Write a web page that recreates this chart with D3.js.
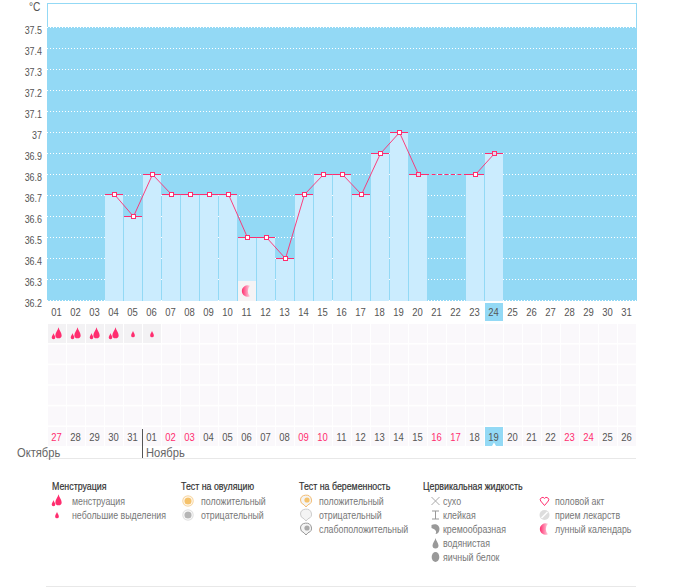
<!DOCTYPE html>
<html lang="ru">
<head>
  <meta charset="utf-8">
  <title>График БТТ</title>
  <script src="https://d3js.org/d3.v7.min.js"></script>
  <style>
    body { margin: 0; background: #fff; }
    svg { display: block; font-family: "Liberation Sans", sans-serif; }
    .tick-label { font-size: 10.5px; fill: #555; }
    .head { font-size: 10.5px; fill: #333; stroke: #333; stroke-width: .2px; }
    .item { font-size: 10.5px; fill: #777; }
  </style>
</head>
<body>
<svg id="chart" width="675" height="587"></svg>
<script>
var days = d3.range(1, 32).map(d => d3.format("02")(d));
var cycleDates = ["27","28","29","30","31","01","02","03","04","05","06","07","08","09","10","11","12","13","14","15","16","17","18","19","20","21","22","23","24","25","26"];
var redDates = [0, 6, 7, 13, 14, 20, 21, 27, 28];
var temps = [null,null,null,36.7,36.6,36.8,36.7,36.7,36.7,36.7,36.5,36.5,36.4,36.7,36.8,36.8,36.7,36.9,37,36.8,null,null,36.8,36.9];
var yTicks = [36.2,36.3,36.4,36.5,36.6,36.7,36.8,36.9,37,37.1,37.2,37.3,37.4,37.5];
var flow = [2,2,2,2,1,1];
var moonDays = [10];
var todayIndex = 23;
var tintedMarkers = [19, 23];

var sky = "#93d9f5", bar = "#cbecfe", pink = "#ff2d6f";

var svg = d3.select("#chart");
var x = d3.scaleBand().domain(d3.range(31)).range([47, 636]);
var y = d3.scaleLinear().domain([36.2, 37.5]).range([300.5, 27.5]);
var rowY = d3.scaleLinear().domain([0, 5]).range([324, 427]);

// the original face is narrower than anything installed, so squeeze the glyphs
function squeeze(sel, k) {
  sel.each(function() {
    this.setAttribute("textLength", this.getComputedTextLength() * k);
    this.setAttribute("lengthAdjust", "spacingAndGlyphs");
  });
  return sel;
}

var defs = svg.append("defs");
var moonGrad = defs.append("linearGradient").attr("id", "moon");
moonGrad.append("stop").attr("offset", "0").attr("stop-color", "#ff2d6f");
moonGrad.append("stop").attr("offset", "1").attr("stop-color", "#ffd0de");

// drop shapes, centred on 0,0
function drop(g, dx, dy, s, fill) {
  g.append("path")
    .attr("transform", "translate(" + dx + "," + dy + ") scale(" + s + ")")
    .attr("d", "M0,-6C.4,-3.5 3,-1 3,1.6A3,3 0 0 1 -3,1.6C-3,-1 -.4,-3.5 0,-6Z")
    .attr("fill", fill);
}
function bigFlow(g) {
  drop(g, 1.5, -.5, 1.05, pink);
  drop(g, -3.5, 2.5, .6, pink);
}
function smallFlow(g) { drop(g, 0, .5, .62, pink); }
function moon(g) {
  g.append("path")
    .attr("d", "M3.5,-5.3A5.8,5.8 0 1 0 3.5,5.3A7.5,7.5 0 0 1 3.5,-5.3Z")
    .attr("fill", "url(#moon)");
}

// plot background
svg.append("rect").attr("x", 47.5).attr("y", 3.5).attr("width", 589).attr("height", 297)
  .attr("fill", "#fff").attr("stroke", sky);
svg.append("rect").attr("x", 47).attr("y", 27).attr("width", 590).attr("height", 274).attr("fill", sky);

svg.append("g").selectAll("line").data(yTicks).enter().append("line")
  .attr("x1", 47).attr("x2", 636)
  .attr("y1", d => y(d)).attr("y2", d => y(d))
  .attr("stroke", "#fff").attr("stroke-dasharray", "1,2");

squeeze(svg.append("text").attr("class", "tick-label").attr("x", 29).attr("y", 11)
  .style("font-size", "12px").text("°C"), .85);
squeeze(svg.append("g").selectAll("text").data(yTicks).enter().append("text")
  .attr("class", "tick-label")
  .attr("x", 42).attr("y", d => y(d) + 6)
  .attr("text-anchor", "end")
  .text(d => d), .85);

// bars
var known = temps.map((t, i) => ({t: t, i: i})).filter(d => d.t !== null);
var tempY = t => Math.round(y(t)) - .5;

svg.append("g").selectAll("rect").data(known).enter().append("rect")
  .attr("x", d => x(d.i) + 1).attr("width", x.bandwidth() - 1)
  .attr("y", d => tempY(d.t)).attr("height", d => 301 - tempY(d.t))
  .attr("fill", bar);

// top of each bar
svg.append("g").selectAll("line").data(known).enter().append("line")
  .attr("x1", d => x(d.i) + 1).attr("x2", d => x(d.i) + 19)
  .attr("y1", d => tempY(d.t)).attr("y2", d => tempY(d.t))
  .attr("stroke", pink);

// the line, broken where days are missing
var cx = i => x(i) + 10.5;
var line = d3.line().x(d => cx(d.i)).y(d => tempY(d.t));
var solid = d3.line().defined(d => d.t !== null).x(d => cx(d.i)).y(d => d.t === null ? 0 : tempY(d.t));
svg.append("path").datum(temps.map((t, i) => ({t: t, i: i})))
  .attr("d", solid).attr("fill", "none").attr("stroke", pink).attr("stroke-width", .9);
for (var k = 1; k < known.length; k++) {
  if (known[k].i - known[k - 1].i > 1) {
    svg.append("path").datum([known[k - 1], known[k]])
      .attr("d", line).attr("fill", "none").attr("stroke", pink).attr("stroke-dasharray", "4,2.5");
  }
}

svg.append("g").selectAll("rect").data(known).enter().append("rect")
  .attr("x", d => cx(d.i) - 2).attr("y", d => tempY(d.t) - 2)
  .attr("width", 4).attr("height", 4)
  .attr("fill", d => tintedMarkers.includes(d.i) ? "#e3d8ec" : "#fff")
  .attr("stroke", pink).attr("stroke-width", 1);

// moon cell on the chart
moonDays.forEach(function(i) {
  svg.append("rect").attr("x", x(i) + 1).attr("y", 281).attr("width", 18).attr("height", 20).attr("fill", "#f5f3f5");
  moon(svg.append("g").attr("transform", "translate(" + (x(i) + 9.5) + ",291)"));
});

// day axis
svg.append("rect").attr("x", x(todayIndex) + 1).attr("y", 303).attr("width", 18).attr("height", 18).attr("fill", sky);
squeeze(svg.append("g").selectAll("text").data(days).enter().append("text")
  .attr("class", "tick-label").attr("text-anchor", "middle")
  .attr("x", (d, i) => x(i) + 9.5).attr("y", 316).text(d => d), .9);

// calendar grid
d3.range(6).forEach(function(r) {
  svg.append("g").selectAll("rect").data(d3.range(31)).enter().append("rect")
    .attr("x", d => x(d) + 1).attr("y", rowY(r)).attr("width", 18).attr("height", 19)
    .attr("fill", d => r === 0 && d < flow.length ? "#f3f2f4" : "#faf8fb");
});
flow.forEach(function(f, i) {
  var g = svg.append("g").attr("transform", "translate(" + (x(i) + 10) + ",334)");
  if (f === 2) bigFlow(g); else smallFlow(g);
});

// cycle dates
svg.append("rect").attr("x", x(todayIndex) + 1).attr("y", 427).attr("width", 18).attr("height", 19).attr("fill", sky);
svg.append("path").attr("d", d3.symbol(d3.symbolTriangle, 8)()).attr("fill", "#fff")
  .attr("transform", "translate(" + (x(todayIndex) + 10) + ",445)");
squeeze(svg.append("g").selectAll("text").data(cycleDates).enter().append("text")
  .attr("text-anchor", "middle").style("font-size", "10.5px")
  .attr("fill", (d, i) => redDates.includes(i) ? pink : "#555")
  .attr("x", (d, i) => x(i) + 9.5).attr("y", 441).text(d => d), .9);

svg.append("line").attr("x1", 142.5).attr("x2", 142.5).attr("y1", 429).attr("y2", 458).attr("stroke", "#555");
svg.append("line").attr("x1", 46).attr("x2", 636).attr("y1", 458.5).attr("y2", 458.5).attr("stroke", "#e8e8e8");
svg.append("line").attr("x1", 46).attr("x2", 636).attr("y1", 586.5).attr("y2", 586.5).attr("stroke", "#e8e8e8");
[["Октябрь", 17], ["Ноябрь", 146]].forEach(function(m) {
  squeeze(svg.append("text").attr("x", m[1]).attr("y", 457).style("font-size", "12px").attr("fill", "#666").text(m[0]), .93);
});

// legend
function badge(g, color, inner) {
  g.append("circle").attr("r", 5.2).attr("fill", "#fff").attr("stroke", color).attr("stroke-width", 1.2);
  g.append("circle").attr("r", 3.6).attr("fill", inner);
}
function bubble(g, color, inner) {
  g.append("path").attr("d", "M-5.5,-1A5.5,5 0 1 1 2,3.8L0,6L-2,3.8A5.5,5 0 0 1 -5.5,-1Z")
    .attr("fill", "#f4f4f4").attr("stroke", color);
  if (inner) g.append("circle").attr("cx", 1).attr("cy", -1).attr("r", 2.6).attr("fill", inner);
}
var legendGroups = [
  {title: "Менструация", tx: 52, lx: 72, ix: 57, items: [
    ["менструация", bigFlow],
    ["небольшие выделения", smallFlow]]},
  {title: "Тест на овуляцию", tx: 181, lx: 201, ix: 188, items: [
    ["положительный", g => badge(g, "#f8d9a8", "#f5c26b")],
    ["отрицательный", g => badge(g, "#e2e2e2", "#b5b5b5")]]},
  {title: "Тест на беременность", tx: 299, lx: 319, ix: 306, items: [
    ["положительный", g => bubble(g, "#f3bd73", "#f5c26b")],
    ["отрицательный", g => bubble(g, "#ccc", null)],
    ["слабоположительный", g => bubble(g, "#999", "#aaa")]]},
  {title: "Цервикальная жидкость", tx: 423, lx: 443, ix: 435.5, items: [
    ["сухо", g => g.append("path").attr("d", "M-4,-4L4,4M4,-4L-4,4").attr("stroke", "#aaa").attr("fill", "none")],
    ["клейкая", g => g.append("path").attr("d", "M-3.5,-4H3.5M-3.5,4H3.5M0,-4V4").attr("stroke", "#999").attr("fill", "none")],
    ["кремообразная", g => g.append("path").attr("d", "M-4,-4C0,-6 4,-4 4,0C4,3 2,5 0,5C2,2 -1,0 -4,-1Z").attr("fill", "#999")],
    ["водянистая", g => drop(g, 0, 1, 1, "#999")],
    ["яичный белок", g => g.append("ellipse").attr("rx", 3.8).attr("ry", 5).attr("fill", "#999")]]},
  {title: null, lx: 555, ix: 544.5, items: [
    ["половой акт", g => g.append("path").attr("d", "M0,4.5L-3.8,0A2.2,2.2 0 0 1 0,-2.6A2.2,2.2 0 0 1 3.8,0Z").attr("fill", "none").attr("stroke", pink)],
    ["прием лекарств", g => {
      g.append("circle").attr("r", 5).attr("fill", "#ddd");
      g.append("path").attr("d", "M-3,3L3,-3").attr("stroke", "#fff").attr("stroke-width", 1.5);
    }],
    ["лунный календарь", moon]]}
];
var legendY = d3.scaleLinear().domain([0, 1]).range([501, 515]);
legendGroups.forEach(function(grp) {
  if (grp.title) squeeze(svg.append("text").attr("class", "head").attr("x", grp.tx).attr("y", 490).text(grp.title), .84);
  grp.items.forEach(function(it, i) {
    squeeze(svg.append("text").attr("class", "item").attr("x", grp.lx).attr("y", legendY(i) + 3.5).text(it[0]), .84);
    it[1](svg.append("g").attr("transform", "translate(" + grp.ix + "," + legendY(i) + ")"));
  });
});
</script>
</body>
</html>
